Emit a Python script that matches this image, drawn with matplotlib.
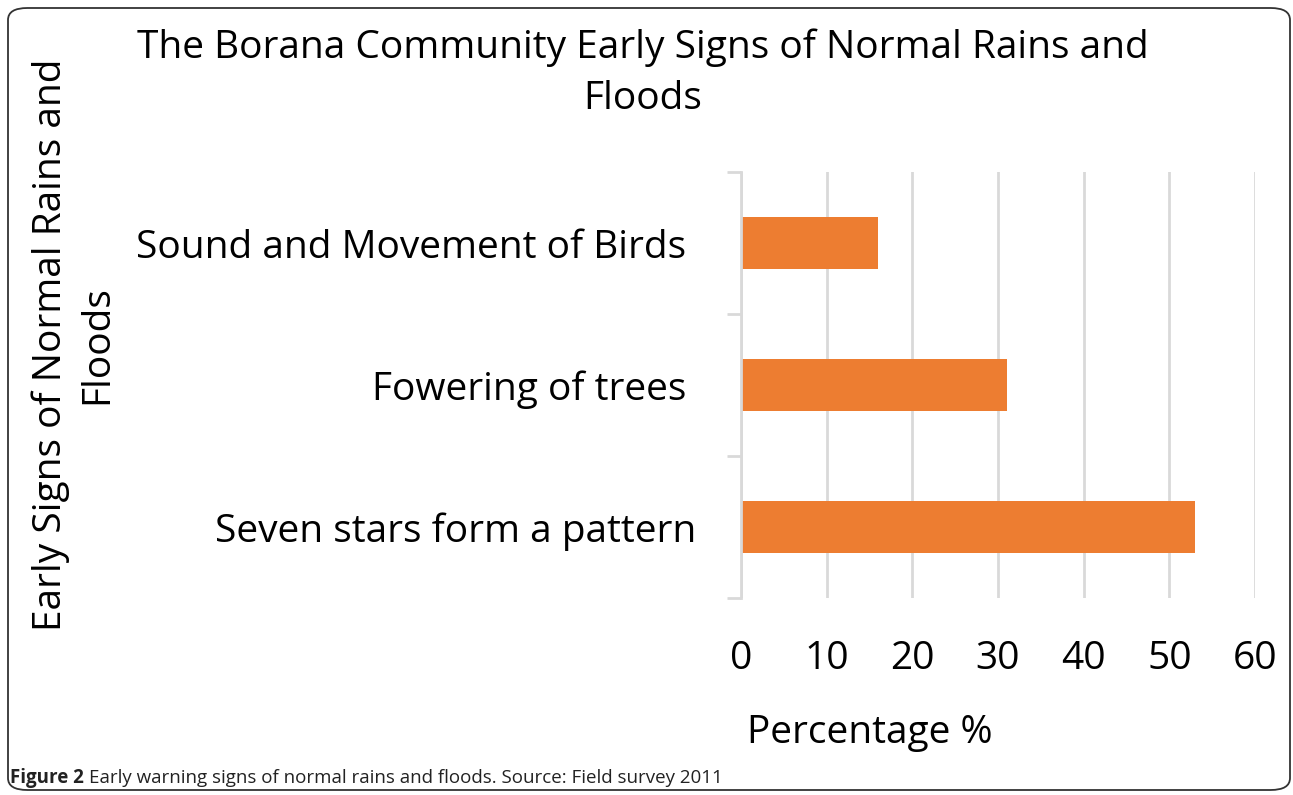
import matplotlib
matplotlib.use("Agg")
import matplotlib.pyplot as plt
from matplotlib.patches import FancyBboxPatch

# данные с картинки
categories = ["Seven stars form a pattern", "Fowering of trees ", "Sound and Movement of Birds "]
values = [53, 31, 16]
xticks = [0, 10, 20, 30, 40, 50, 60]

plt.rcParams['font.family'] = ['Open Sans', 'DejaVu Sans']

fig = plt.figure(figsize=(12.93, 7.95), dpi=100)
W, H = 1293, 795

# рамка вокруг рисунка
box = FancyBboxPatch((8 / W, 5 / H), 1282 / W, 782 / H,
                     boxstyle="round,pad=0,rounding_size=0.015",
                     transform=fig.transFigure, fill=False,
                     edgecolor="#333333", linewidth=1.3)
fig.patches.append(box)

ax = fig.add_axes([741 / W, 1 - 598 / H, (1255 - 741) / W, (598 - 172) / H])
grey = "#d9d9d9"
orange = "#ed7d31"

ax.barh(range(len(values)), values, height=0.36, color=orange)
ax.set_xlim(0, 60)
ax.set_ylim(-0.5, len(values) - 0.5)

ax.set_xticks(xticks)
ax.set_xticklabels([str(t) for t in xticks], fontsize=28)
ax.tick_params(axis="x", length=0, pad=30)
ax.grid(axis="x", color=grey, linewidth=2)
ax.set_axisbelow(True)

ax.set_yticks(range(len(values)))
ax.set_yticklabels(categories, fontsize=28)
ax.set_yticks([i - 0.5 for i in range(len(values) + 1)], minor=True)
ax.tick_params(axis="y", which="major", length=0, pad=32)
ax.tick_params(axis="y", which="minor", length=10, width=2, color=grey)

for s in ["top", "right", "bottom"]:
    ax.spines[s].set_visible(False)
ax.spines["left"].set_color(grey)
ax.spines["left"].set_linewidth(2)

fig.text(643 / W, 1 - 73 / H, "The Borana Community Early Signs of Normal Rains and\nFloods",
         ha="center", va="center", fontsize=28, linespacing=1.45)
fig.text(870 / W, 1 - 733 / H, "Percentage %", ha="center", va="center", fontsize=28)
fig.text(74 / W, 1 - 345 / H, "Early Signs of Normal Rains and\nFloods", rotation=90,
         ha="center", va="center", fontsize=28, linespacing=1.3, multialignment="center")

# подпись рисунка
t1 = fig.text(10 / W, 1 - 778 / H, "Figure 2", fontsize=13.5, fontweight="bold",
              va="center", color="#222222")
fig.canvas.draw()
bb = t1.get_window_extent()
fig.text((bb.x1 + 5) / W, 1 - 778 / H,
         "Early warning signs of normal rains and floods. Source: Field survey 2011",
         fontsize=13.5, va="center", color="#222222")

fig.savefig("out.png", dpi=100)
